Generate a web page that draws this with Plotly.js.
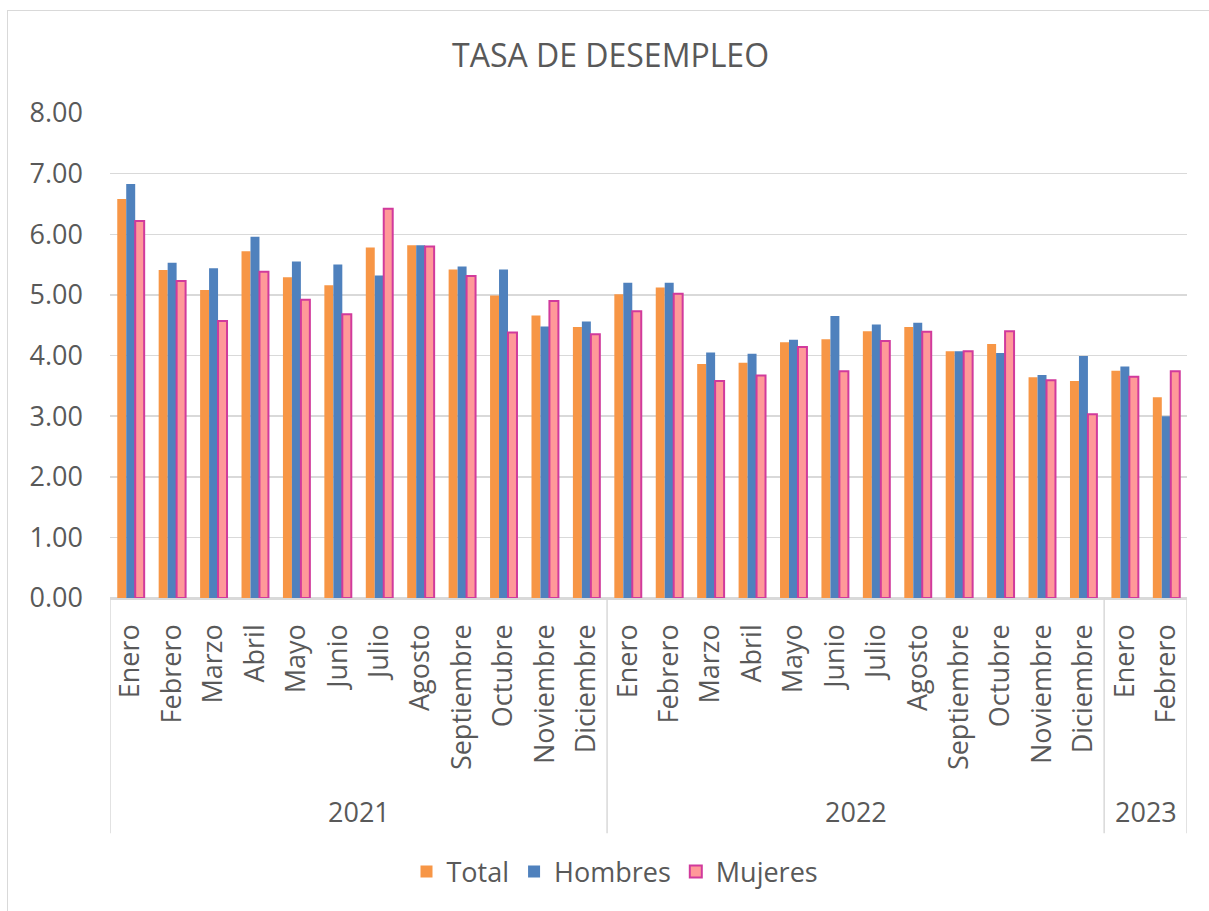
<!DOCTYPE html>
<html>
<head>
<meta charset="utf-8">
<script src="https://cdn.plot.ly/plotly-3.0.1.min.js"></script>
<style>
  html, body { margin: 0; padding: 0; background: #ffffff; overflow: hidden; }
  #chart { width: 1209px; height: 911px; position: absolute; left: 0; top: 0; }
  #frame { position: absolute; left: 7px; top: 10px; width: 1300px; height: 1000px;
           border: 1.5px solid #d9d9d9; pointer-events: none; }
</style>
</head>
<body>
<div id="chart"></div>
<div id="frame"></div>
<script>
// ---- data ----
const months = ['Enero','Febrero','Marzo','Abril','Mayo','Junio','Julio','Agosto','Septiembre','Octubre','Noviembre','Diciembre',
                'Enero','Febrero','Marzo','Abril','Mayo','Junio','Julio','Agosto','Septiembre','Octubre','Noviembre','Diciembre',
                'Enero','Febrero'];
const years = ['2021','2021','2021','2021','2021','2021','2021','2021','2021','2021','2021','2021',
               '2022','2022','2022','2022','2022','2022','2022','2022','2022','2022','2022','2022',
               '2023','2023'];
const total    = [6.58,5.41,5.08,5.72,5.29,5.16,5.78,5.82,5.42,4.99,4.66,4.47,
                  5.01,5.12,3.86,3.88,4.22,4.27,4.40,4.47,4.07,4.19,3.64,3.58,
                  3.75,3.31];
const hombres  = [6.83,5.53,5.44,5.96,5.55,5.50,5.32,5.82,5.47,5.42,4.48,4.56,
                  5.20,5.20,4.05,4.03,4.26,4.65,4.51,4.54,4.07,4.04,3.68,3.99,
                  3.82,3.00];
const mujeres  = [6.22,5.23,4.57,5.38,4.92,4.68,6.42,5.80,5.31,4.38,4.90,4.35,
                  4.73,5.02,3.58,3.67,4.14,3.74,4.24,4.39,4.07,4.40,3.59,3.03,
                  3.65,3.74];
const seriesNames = ['Total','Hombres','Mujeres'];

// ---- build ----
const keys = months.map((m, i) => years[i] + ' ' + m);
const textColor = '#595959';
const gridColor = '#d9d9d9';
const font = 'Open Sans, Noto Sans, sans-serif';

const traces = [
  { type: 'bar', name: seriesNames[0], x: keys, y: total,
    marker: { color: '#F79646', line: { width: 0 } } },
  { type: 'bar', name: seriesNames[1], x: keys, y: hombres,
    marker: { color: '#4F81BD', line: { width: 0 } } },
  { type: 'bar', name: seriesNames[2], x: keys, y: mujeres,
    marker: { color: '#FF9999', line: { color: '#D13A9C', width: 2 } } }
];

// year groups: boundaries and centres
const groups = [];
years.forEach((y, i) => {
  const g = groups.length ? groups[groups.length - 1] : null;
  if (g && g.year === y) { g.end = i; } else { groups.push({ year: y, start: i, end: i }); }
});

const shapes = [];
const annotations = [];
const divBottom = -0.485;
groups.forEach((g, k) => {
  shapes.push({ type: 'line', xref: 'x', yref: 'paper', x0: g.start - 0.5, x1: g.start - 0.5,
                y0: 0, y1: divBottom, line: { color: gridColor, width: 1.5 } });
  if (k === groups.length - 1) {
    shapes.push({ type: 'line', xref: 'x', yref: 'paper', x0: g.end + 0.5, x1: g.end + 0.5,
                  y0: 0, y1: divBottom, line: { color: gridColor, width: 1.5 } });
  }
  annotations.push({ xref: 'x', yref: 'paper', x: (g.start + g.end) / 2, y: -0.441,
                     text: g.year, showarrow: false, xanchor: 'center', yanchor: 'middle',
                     font: { family: font, size: 27, color: textColor } });
});

const layout = {
  width: 1209, height: 911,
  margin: { l: 110, r: 22, t: 113, b: 313 },
  paper_bgcolor: '#ffffff', plot_bgcolor: '#ffffff',
  font: { family: font, color: textColor },
  title: { text: 'TASA DE DESEMPLEO', font: { family: font, size: 32, color: textColor },
           x: 0.505, xref: 'container', xanchor: 'center',
           y: 1 - 56 / 911, yref: 'container', yanchor: 'middle' },
  barmode: 'group', bargap: 0.35, bargroupgap: 0,
  xaxis: { type: 'category', categoryorder: 'array', categoryarray: keys,
           tickvals: keys, ticktext: months, tickangle: -90,
           tickfont: { family: font, size: 27, color: textColor },
           range: [-0.5, keys.length - 0.5],
           showgrid: false, showline: true, linecolor: gridColor, linewidth: 1.5,
           ticks: '', ticklabelstandoff: 14, fixedrange: true },
  yaxis: { range: [0, 8], dtick: 1, tick0: 0, tickformat: '.2f',
           tickfont: { family: font, size: 27, color: textColor },
           showgrid: true, gridcolor: gridColor, gridwidth: 1.5,
           zeroline: true, zerolinecolor: gridColor, zerolinewidth: 1.5,
           showline: false, ticks: '', ticklabelstandoff: 26, fixedrange: true },
  showlegend: true,
  legend: { orientation: 'h', xref: 'container', yref: 'container',
            x: 615 / 1209, xanchor: 'center', y: 1 - 872 / 911, yanchor: 'middle',
            font: { family: font, size: 27, color: textColor },
            itemwidth: 30, traceorder: 'normal' },
  shapes: shapes,
  annotations: annotations
};

Plotly.newPlot('chart', traces, layout, { displayModeBar: false, staticPlot: true });
</script>
</body>
</html>
